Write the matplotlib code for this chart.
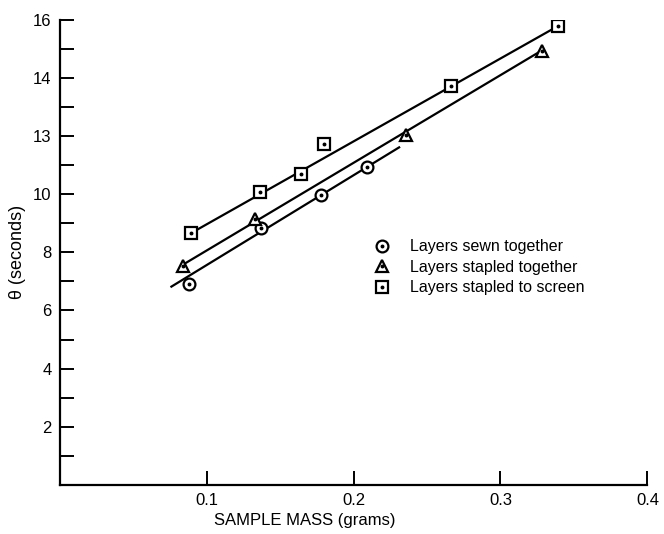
import matplotlib
matplotlib.use("Agg")
import matplotlib.pyplot as plt
from matplotlib.lines import Line2D
import numpy as np

# Data
sewn_x = [0.088, 0.137, 0.178, 0.209]
sewn_y = [6.90, 8.85, 9.97, 10.92]
stapled_x = [0.084, 0.133, 0.236, 0.328]
stapled_y = [7.53, 9.16, 12.03, 14.94]
screen_x = [0.089, 0.136, 0.164, 0.180, 0.266, 0.339]
screen_y = [8.66, 10.06, 10.71, 11.72, 13.71, 15.78]

# Fitted lines (end points)
sewn_line_x = [0.076, 0.231]
sewn_line_y = [6.82, 11.61]
stapled_line_x = [0.086, 0.328]
stapled_line_y = [7.64, 14.94]
screen_line_x = [0.089, 0.339]
screen_line_y = [8.65, 15.78]

x_ticks = [0.1, 0.2, 0.3, 0.4]
x_tick_labels = ["0.1", "0.2", "0.3", "0.4"]
y_ticks = [2, 4, 6, 8, 10, 12, 14, 16]
y_tick_labels = ["2", "4", "6", "8", "10", "13", "14", "16"]
y_minor = [1, 3, 5, 7, 9, 11, 13, 15]

series_labels = ["Layers sewn together", "Layers stapled together", "Layers stapled to screen"]

plt.rcParams['font.family'] = ['Liberation Sans', 'DejaVu Sans']

fig = plt.figure(figsize=(6.64, 5.34), dpi=100)
ax = fig.add_axes([0.090, 0.092, 0.885, 0.871])

lw = 1.6
for lx, ly in [(sewn_line_x, sewn_line_y), (stapled_line_x, stapled_line_y), (screen_line_x, screen_line_y)]:
    ax.plot(lx, ly, color='black', lw=lw, zorder=2)

ms = 8.5
mk = dict(ls='none', mfc='white', mec='black', mew=1.6, ms=ms, zorder=3)
dot = dict(ls='none', marker='o', color='black', ms=1.8, zorder=4)
handles = []
for xs, ys, m, s in [(sewn_x, sewn_y, 'o', ms), (stapled_x, stapled_y, '^', ms), (screen_x, screen_y, 's', ms - 0.5)]:
    ax.plot(xs, ys, marker=m, **{**mk, 'ms': s})
    ax.plot(xs, ys, **dot)
    h1 = Line2D([], [], marker=m, **{**mk, 'ms': s})
    h2 = Line2D([], [], **dot)
    handles.append((h1, h2))

ax.legend(handles, series_labels, loc='upper left', bbox_to_anchor=(0.553, 0.564),
          bbox_transform=fig.transFigure, frameon=False, handlelength=1.0,
          handletextpad=1.3, labelspacing=0.35, fontsize=11.5, borderaxespad=0)

ax.set_xlim(0, 0.4)
ax.set_ylim(0, 16)
ax.set_xticks(x_ticks)
ax.set_xticklabels(x_tick_labels, fontsize=12)
ax.set_yticks(y_ticks)
ax.set_yticklabels(y_tick_labels, fontsize=12)
ax.set_yticks(y_minor, minor=True)
ax.tick_params(axis='both', which='major', direction='in', length=10, width=1.4, pad=6)
ax.tick_params(axis='y', which='minor', direction='in', length=10, width=1.4)

for sp in ['top', 'right']:
    ax.spines[sp].set_visible(False)
for sp in ['left', 'bottom']:
    ax.spines[sp].set_linewidth(1.6)

ax.set_xlabel("SAMPLE MASS (grams)", fontsize=12)
ax.xaxis.set_label_coords(0.417, -0.06)
ax.set_ylabel("θ (seconds)", fontsize=13)
ax.yaxis.set_label_coords(-0.058, 0.5)

fig.savefig("out.png", dpi=100)
